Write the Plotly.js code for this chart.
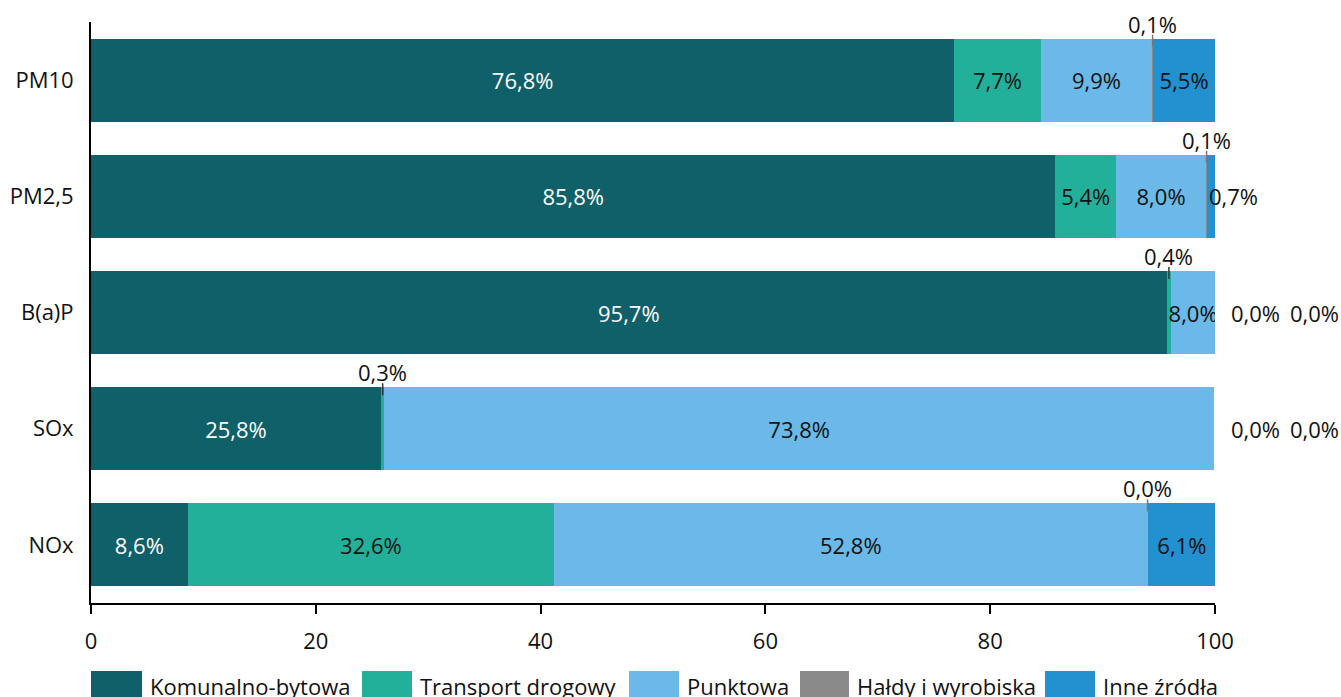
<!DOCTYPE html>
<html>
<head>
<meta charset="utf-8">
<script src="https://cdn.plot.ly/plotly-3.0.1.min.js"></script>
<style>html,body{margin:0;padding:0;background:#fff;}#chart{width:1341px;height:697px;}</style>
</head>
<body>
<div id="chart"></div>
<script>
// ---- data ----
const categories = ['PM10', 'PM2,5', 'B(a)P', 'SOx', 'NOx'];
const seriesNames = ['Komunalno-bytowa', 'Transport drogowy', 'Punktowa', 'Hałdy i wyrobiska', 'Inne źródła'];
const komunalno = [76.8, 85.8, 95.7, 25.8, 8.6];
const transport = [7.7, 5.4, 0.4, 0.3, 32.6];
const punktowa  = [9.9, 8.0, 3.9, 73.8, 52.8];
const haldy     = [0.1, 0.1, 0.0, 0.0, 0.0];
const inne      = [5.5, 0.7, 0.0, 0.0, 6.1];
// labels exactly as printed on the chart (B(a)P "Punktowa" is printed as 8,0%)
const punktowaPrinted = ['9,9%', '8,0%', '8,0%', '73,8%', '52,8%'];

// ---- style ----
const colors = ['#0f6068', '#23b09a', '#6bb9e8', '#8a8a8a', '#2390d0'];
const FONT = 'Open Sans, Noto Sans, sans-serif';
const FS = 22;
const TXT = '#111111';
const series = [komunalno, transport, punktowa, haldy, inne];
const fmt = v => v.toFixed(1).replace('.', ',') + '%';
// label placement per series (rows) per category (cols)
const placement = [
  ['in', 'in', 'in', 'in', 'in'],
  ['in', 'in', 'above', 'above', 'in'],
  ['in', 'in', 'in', 'in', 'in'],
  ['above', 'above', 'out1', 'out1', 'above'],
  ['in', 'right', 'out2', 'out2', 'in']
];
const labelFor = (s, c) => s === 2 ? punktowaPrinted[c] : fmt(series[s][c]);

const bargap = 0.286;
const hw = (1 - bargap) / 2;
const pxPerCat = 581 / 5;

const traces = series.map((vals, s) => ({
  type: 'bar',
  orientation: 'h',
  name: seriesNames[s],
  y: categories,
  x: vals,
  marker: {color: colors[s], line: {width: 0}},
  text: vals.map((v, c) => placement[s][c] === 'in' ? labelFor(s, c) : ''),
  textposition: 'inside',
  insidetextanchor: 'middle',
  constraintext: 'none',
  textangle: 0,
  textfont: {family: FONT, size: FS, color: s === 0 ? '#ffffff' : TXT},
  hoverinfo: 'skip',
  showlegend: false
}));

const annotations = [];
const shapes = [];
categories.forEach((cat, c) => {
  let cum = 0;
  series.forEach((vals, s) => {
    const v = vals[c];
    const mode = placement[s][c];
    const mid = cum + v / 2;
    if (mode === 'above') {
      annotations.push({x: mid, y: cat, xref: 'x', yref: 'y', text: labelFor(s, c), showarrow: false,
        xanchor: 'center', yanchor: 'middle', yshift: hw * pxPerCat + 15,
        font: {family: FONT, size: FS, color: TXT}});
      shapes.push({type: 'line', xref: 'x', yref: 'y', x0: mid, x1: mid,
        y0: c - hw - 4 / pxPerCat, y1: c - hw + 8 / pxPerCat,
        line: {color: s === 1 ? '#333333' : '#777777', width: 1.5}});
    } else if (mode === 'right') {
      annotations.push({x: cum, y: cat, xref: 'x', yref: 'y', text: labelFor(s, c), showarrow: false,
        xanchor: 'left', yanchor: 'middle', font: {family: FONT, size: FS, color: TXT}});
    } else if (mode === 'out1' || mode === 'out2') {
      annotations.push({x: 100, y: cat, xref: 'x', yref: 'y', text: labelFor(s, c), showarrow: false,
        xanchor: 'center', yanchor: 'middle', xshift: mode === 'out1' ? 40 : 99,
        font: {family: FONT, size: FS, color: TXT}});
    }
    cum += v;
  });
});

// ---- manual legend ----
const L = 91, T = 22, PW = 1124, PH = 581;
const px2x = px => (px - L) / PW;
const px2y = py => (T + PH - py) / PH;
const legendBoxes = [[91, 142], [362, 412], [629, 679], [800, 849], [1045, 1095]];
const legendText = [148, 418, 685, 855, 1101];
seriesNames.forEach((n, s) => {
  shapes.push({type: 'rect', xref: 'paper', yref: 'paper', layer: 'above',
    x0: px2x(legendBoxes[s][0]), x1: px2x(legendBoxes[s][1]), y0: px2y(705), y1: px2y(671),
    fillcolor: colors[s], line: {width: 0}});
  annotations.push({xref: 'paper', yref: 'paper', x: px2x(legendText[s]), y: px2y(686),
    xanchor: 'left', yanchor: 'middle', text: n, showarrow: false,
    font: {family: FONT, size: FS, color: TXT}});
});

const layout = {
  width: 1341, height: 697,
  margin: {l: L, r: 1341 - L - PW, t: T, b: 697 - T - PH, pad: 0},
  paper_bgcolor: '#ffffff', plot_bgcolor: '#ffffff',
  barmode: 'stack', bargap: bargap,
  showlegend: false,
  font: {family: FONT, size: FS, color: TXT},
  xaxis: {
    range: [0, 100], tickvals: [0, 20, 40, 60, 80, 100], ticktext: ['0', '20', '40', '60', '80', '100'],
    showgrid: false, zeroline: false, showline: true, linecolor: '#000', linewidth: 2,
    ticks: 'outside', ticklen: 9, tickwidth: 2, tickcolor: '#000',
    ticklabelstandoff: 9,
    tickfont: {family: FONT, size: FS, color: TXT}, fixedrange: true
  },
  yaxis: {
    type: 'category', categoryorder: 'array', categoryarray: categories,
    range: [4.5, -0.5],
    showgrid: false, zeroline: false, showline: true, linecolor: '#000', linewidth: 2,
    ticks: '', ticklabelstandoff: 11,
    tickfont: {family: FONT, size: FS, color: TXT}, fixedrange: true
  },
  annotations: annotations,
  shapes: shapes
};

Plotly.newPlot('chart', traces, layout, {displayModeBar: false, staticPlot: true});
</script>
</body>
</html>
